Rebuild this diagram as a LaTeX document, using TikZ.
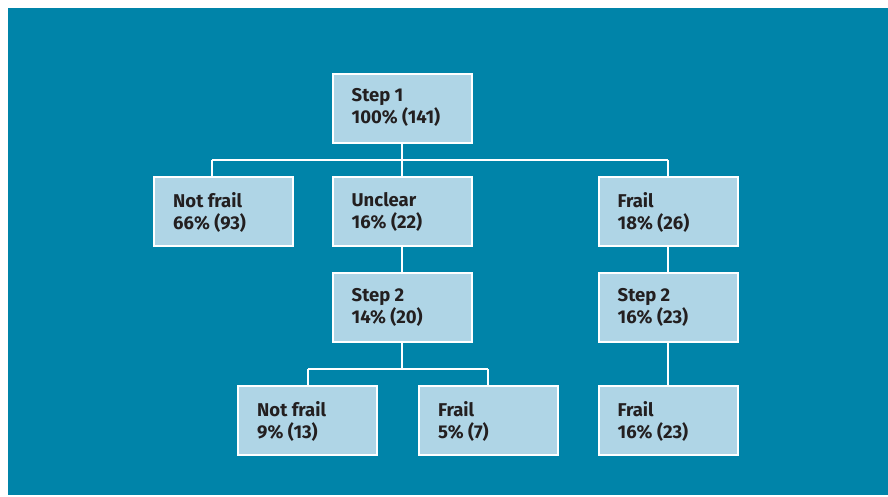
\documentclass[tikz,border=0pt]{standalone}
\usepackage{fontspec}
\setmainfont{Fira Sans}
\definecolor{teal0}{HTML}{0084A9}
\definecolor{boxfill}{HTML}{AFD5E6}
\definecolor{txt}{HTML}{231F20}
\begin{document}
\begin{tikzpicture}[x=1pt,y=-1pt,
  box/.style={draw=white,line width=2pt,fill=boxfill,minimum width=139pt,minimum height=69pt,inner sep=0pt,outer sep=0pt},
  lbl/.style={anchor=north west,inner sep=0pt,text=txt,font=\fontsize{18.5}{22}\selectfont\bfseries,align=left},
  conn/.style={draw=white,line width=2pt}]
\useasboundingbox (0,0) rectangle (888,496);
\fill[white] (0,0) rectangle (888,496);
\fill[teal0] (8,8) rectangle (888,495);
% junctions
\coordinate (j1) at (402,160);
\coordinate (j1l) at (212,160);
\coordinate (j1r) at (668,160);
\coordinate (j2) at (402,369);
\coordinate (j2l) at (308,369);
\coordinate (j2r) at (488,369);
% boxes
\node[box] (s1) at (402,108) {};
\node[box] (nf1) at (223.5,211.5) {};
\node[box] (un) at (402,211.5) {};
\node[box] (fr1) at (668,211.5) {};
\node[box] (s2a) at (402,307.5) {};
\node[box] (s2b) at (668,307.5) {};
\node[box] (nf2) at (307.5,420.5) {};
\node[box] (fr2) at (488.5,420.5) {};
\node[box] (fr3) at (668,420.5) {};
% connectors
\path[conn] (s1.south) -- (j1);
\path[conn] (j1l) -- (j1r);
\path[conn] (j1l) -- (j1l |- nf1.north);
\path[conn] (j1) -- (un.north);
\path[conn] (j1r) -- (fr1.north);
\path[conn] (un.south) -- (s2a.north);
\path[conn] (fr1.south) -- (s2b.north);
\path[conn] (s2b.south) -- (fr3.north);
\path[conn] (s2a.south) -- (j2);
\path[conn] (j2l) -- (j2r);
\path[conn] (j2l) -- (j2l |- nf2.north);
\path[conn] (j2r) -- (j2r |- fr2.north);
% labels
\node[lbl] (t1) at ([xshift=19pt,yshift=-15pt]s1.north west) {Step 1\\100\% (141)};
\node[lbl] (t2) at ([xshift=19pt,yshift=-15pt]nf1.north west) {Not frail\\66\% (93)};
\node[lbl] (t3) at ([xshift=19pt,yshift=-15pt]un.north west) {Unclear\\16\% (22)};
\node[lbl] (t4) at ([xshift=19pt,yshift=-15pt]fr1.north west) {Frail\\18\% (26)};
\node[lbl] (t5) at ([xshift=19pt,yshift=-15pt]s2a.north west) {Step 2\\14\% (20)};
\node[lbl] (t6) at ([xshift=19pt,yshift=-15pt]s2b.north west) {Step 2\\16\% (23)};
\node[lbl] (t7) at ([xshift=19pt,yshift=-15pt]nf2.north west) {Not frail\\9\% (13)};
\node[lbl] (t8) at ([xshift=19pt,yshift=-15pt]fr2.north west) {Frail\\5\% (7)};
\node[lbl] (t9) at ([xshift=19pt,yshift=-15pt]fr3.north west) {Frail\\16\% (23)};
\end{tikzpicture}
\end{document}
